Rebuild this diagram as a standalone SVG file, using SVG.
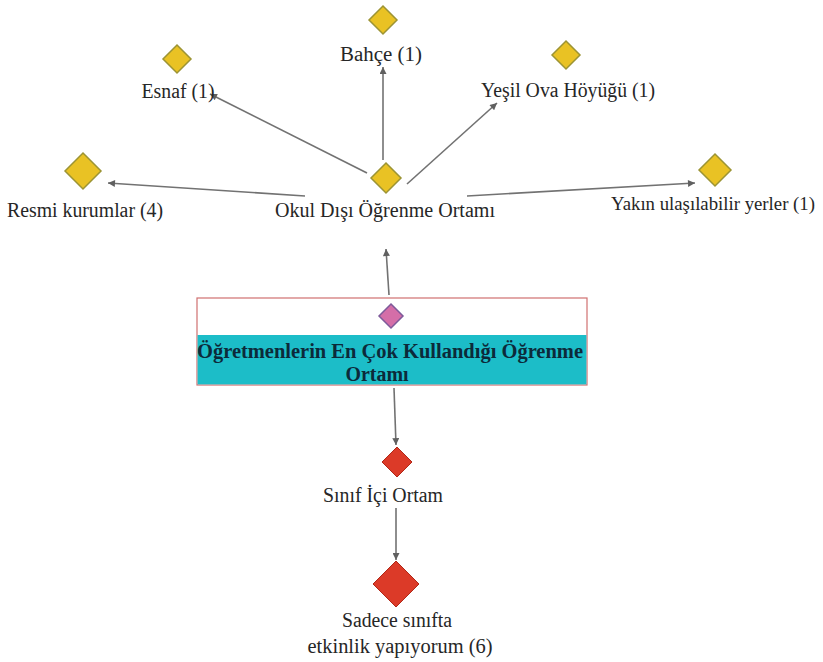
<svg xmlns="http://www.w3.org/2000/svg" width="823" height="662" viewBox="0 0 823 662">
  <style>
    .lbl { font-family: "Liberation Serif", "DejaVu Serif", serif; font-size: 20px; fill: #262626; text-anchor: middle; }
    .hdr { font-family: "Liberation Serif", "DejaVu Serif", serif; font-size: 20px; font-weight: bold; fill: #0c2a3a; text-anchor: middle; }
    .yel { fill: #e9c224; stroke: #9c9434; stroke-width: 1.5; }
    .red { fill: #dc3a28; stroke: #b02818; stroke-width: 1; }
    .pink { fill: #d46ea8; stroke: #7e5a9a; stroke-width: 1.5; }
    .edge { stroke: #727272; stroke-width: 1.6; fill: none; marker-end: url(#arr); }
  </style>
  <defs>
    <marker id="arr" viewBox="0 0 10 10" refX="10" refY="5" markerWidth="10" markerHeight="7" markerUnits="userSpaceOnUse" orient="auto">
      <path d="M0,0 L10,5 L0,10 z" fill="#606060"/>
    </marker>
  </defs>
  <rect width="823" height="662" fill="#fff"/>

  <g id="edges">
    <line class="edge" x1="389" y1="295" x2="386" y2="249"/>
    <line class="edge" x1="305" y1="196" x2="108" y2="183"/>
    <line class="edge" x1="367" y1="173" x2="210" y2="94"/>
    <line class="edge" x1="383" y1="160" x2="383" y2="67"/>
    <line class="edge" x1="407" y1="184" x2="497" y2="103"/>
    <line class="edge" x1="467" y1="196" x2="695" y2="183"/>
    <line class="edge" x1="394" y1="388" x2="396" y2="445"/>
    <line class="edge" x1="396" y1="508" x2="396" y2="560"/>
  </g>

  <g id="root">
    <rect x="197" y="298" width="390" height="87" fill="#fff" stroke="#d07070" stroke-width="1.2"/>
    <rect x="197.6" y="335" width="388.8" height="49.4" fill="#1cbdc8"/>
    <polygon class="pink" points="391,304 403,316 391,328 379,316"/>
    <text class="hdr" x="390" y="358" textLength="386" lengthAdjust="spacingAndGlyphs">Öğretmenlerin En Çok Kullandığı Öğrenme</text>
    <text class="hdr" x="377" y="381" textLength="63" lengthAdjust="spacingAndGlyphs">Ortamı</text>
  </g>

  <g id="okul">
    <polygon class="yel" points="386,163 401,178 386,193 371,178"/>
    <text class="lbl" x="385" y="217" textLength="220" lengthAdjust="spacingAndGlyphs">Okul Dışı Öğrenme Ortamı</text>
  </g>

  <g id="resmi">
    <polygon class="yel" points="83,153 101,171 83,189 65,171"/>
    <text class="lbl" x="85" y="217" textLength="156" lengthAdjust="spacingAndGlyphs">Resmi kurumlar (4)</text>
  </g>

  <g id="esnaf">
    <polygon class="yel" points="177,45 191,59 177,73 163,59"/>
    <text class="lbl" x="178" y="98" textLength="73" lengthAdjust="spacingAndGlyphs">Esnaf (1)</text>
  </g>

  <g id="bahce">
    <polygon class="yel" points="383,6 397,20 383,34 369,20"/>
    <text class="lbl" x="381" y="61" textLength="82" lengthAdjust="spacingAndGlyphs">Bahçe (1)</text>
  </g>

  <g id="yesil">
    <polygon class="yel" points="566,41 580,55 566,69 552,55"/>
    <text class="lbl" x="568" y="97" textLength="174" lengthAdjust="spacingAndGlyphs">Yeşil Ova Höyüğü (1)</text>
  </g>

  <g id="yakin">
    <polygon class="yel" points="715,154 731,170 715,186 699,170"/>
    <text class="lbl" x="713" y="210" font-size="18.5" textLength="204" lengthAdjust="spacingAndGlyphs" style="font-size:18.5px">Yakın ulaşılabilir yerler (1)</text>
  </g>

  <g id="sinif">
    <polygon class="red" points="397,447 412,462 397,477 382,462"/>
    <text class="lbl" x="383" y="502" textLength="120" lengthAdjust="spacingAndGlyphs">Sınıf İçi Ortam</text>
  </g>

  <g id="sadece">
    <polygon class="red" points="396,561 419,584 396,607 373,584"/>
    <text class="lbl" x="397" y="627" textLength="110" lengthAdjust="spacingAndGlyphs">Sadece sınıfta</text>
    <text class="lbl" x="400" y="653" textLength="185" lengthAdjust="spacingAndGlyphs">etkinlik yapıyorum (6)</text>
  </g>
</svg>
